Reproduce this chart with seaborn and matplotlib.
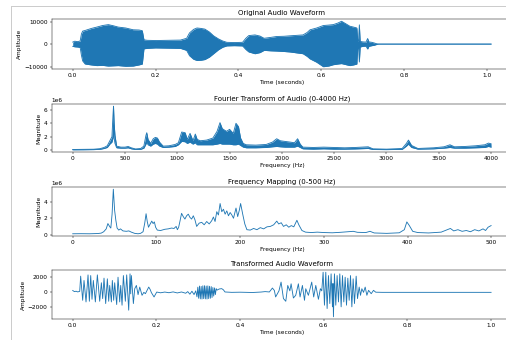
import numpy as np
import matplotlib
matplotlib.use("Agg")
import matplotlib.pyplot as plt
import seaborn as sns
from matplotlib.lines import Line2D

# original waveform envelope (seconds, upper, lower)
orig_t = [0.000, 0.005, 0.012, 0.018, 0.021, 0.024, 0.030, 0.045, 0.058, 0.072,
          0.086, 0.098, 0.110, 0.128, 0.146, 0.160, 0.168, 0.172, 0.180, 0.200,
          0.230, 0.260, 0.275, 0.282, 0.292, 0.300, 0.310, 0.319, 0.330, 0.340,
          0.352, 0.362, 0.372, 0.390, 0.410, 0.418, 0.425, 0.440, 0.452, 0.462,
          0.478, 0.492, 0.510, 0.524, 0.540, 0.556, 0.566, 0.573, 0.589, 0.605,
          0.618, 0.629, 0.640, 0.649, 0.660, 0.669, 0.678, 0.686, 0.688, 0.690,
          0.692, 0.694, 0.700, 0.708, 0.712, 0.715, 0.722, 0.728, 0.733, 0.738,
          1.010]
orig_hi = [900, 1300, 1100, 1400, 4500, 5800, 6100, 7000, 7600, 8300,
           8700, 8200, 7600, 7200, 6400, 6300, 6000, 1900, 1700, 1600,
           1700, 1800, 2600, 5000, 6600, 7200, 7000, 6700, 5400, 3700,
           2300, 1400, 800, 700, 800, 2600, 3800, 4100, 3600, 2600,
           3000, 3400, 3500, 3700, 3900, 4100, 5200, 6400, 7200, 8300,
           8500, 8700, 9400, 10200, 9000, 8000, 7600, 7200, 1600, 1500,
           8600, 1200, 1000, 900, 2500, 1000, 800, 500, 200, 0,
           0]
orig_lo = [-1000, -1200, -1300, -1500, -5000, -7500, -8900, -9300, -9600, -9500,
           -9800, -9700, -9600, -9900, -9800, -9300, -8900, -2100, -1900, -1700,
           -1800, -1900, -2800, -5200, -6800, -7300, -7200, -6900, -5800, -4300,
           -2500, -1400, -800, -700, -800, -2400, -3500, -4300, -3800, -2800,
           -3000, -3100, -3300, -3500, -3900, -4300, -5500, -6600, -8100, -10100,
           -9800, -9200, -8900, -8700, -9200, -9600, -9300, -8900, -1800, -1600,
           -8000, -1300, -1000, -900, -2200, -1000, -700, -500, -200, 0,
           0]

# fourier magnitude envelope, 0-4000 Hz (units of 1e6)
fft_hz = [0, 100, 200, 260, 300, 330, 355, 375, 385, 390, 396, 404, 420, 460, 500,
          530, 560, 600, 650, 680, 700, 708, 720, 745, 770, 790, 810, 830, 865, 920,
          980, 1010, 1042, 1075, 1095, 1122, 1150, 1172, 1190, 1220, 1280, 1340, 1380,
          1408, 1430, 1470, 1500, 1535, 1561, 1585, 1605, 1630, 1660, 1750, 1850, 1910,
          1950, 1985, 2030, 2080, 2120, 2150, 2175, 2200, 2300, 2400, 2500, 2600, 2700,
          2825, 2870, 3000, 3150, 3190, 3210, 3240, 3300, 3450, 3550, 3607, 3650, 3750,
          3850, 3940, 3975, 4000]
fft_lo = [0.05, 0.06, 0.08, 0.12, 0.25, 0.40, 0.90, 1.20, 1.80, 2.50, 1.80, 1.00, 0.35, 0.30, 0.30,
          0.35, 0.20, 0.10, 0.12, 0.30, 0.90, 1.20, 0.80, 0.60, 0.90, 1.00, 0.90, 0.60, 0.40, 0.45,
          0.55, 0.80, 1.30, 1.25, 1.00, 1.20, 0.90, 1.10, 0.80, 0.80, 0.80, 0.80, 0.90,
          1.00, 0.90, 0.90, 0.90, 0.80, 0.80, 0.90, 0.70, 0.45, 0.35, 0.35, 0.40, 0.50,
          0.55, 0.50, 0.45, 0.45, 0.45, 0.60, 0.40, 0.20, 0.15, 0.20, 0.15, 0.15, 0.18,
          0.25, 0.10, 0.08, 0.12, 0.60, 0.90, 0.40, 0.15, 0.20, 0.30, 0.40, 0.30, 0.30,
          0.35, 0.40, 0.55, 0.45]
fft_hi = [0.10, 0.12, 0.14, 0.22, 0.40, 0.65, 1.40, 2.00, 5.20, 6.55, 4.00, 2.20, 0.60, 0.45, 0.45,
          0.55, 0.35, 0.18, 0.25, 0.60, 2.20, 2.60, 1.60, 1.00, 1.70, 1.90, 1.80, 1.20, 0.60, 0.65,
          0.85, 1.10, 2.70, 2.60, 1.60, 2.50, 1.40, 2.40, 1.60, 1.40, 1.50, 1.80, 2.80,
          4.10, 3.20, 2.80, 3.10, 2.50, 4.00, 3.50, 1.80, 1.00, 0.80, 0.75, 0.85, 1.20,
          1.70, 1.40, 1.30, 1.20, 1.10, 1.70, 0.90, 0.45, 0.40, 0.45, 0.40, 0.35, 0.40,
          0.50, 0.20, 0.15, 0.25, 1.00, 1.50, 0.70, 0.25, 0.35, 0.50, 0.80, 0.50, 0.55,
          0.65, 0.80, 1.05, 0.95]

# frequency mapping, 0-500 Hz (units of 1e6)
map_hz = [0, 10, 20, 30, 34, 37, 40, 42, 44, 45.5, 47, 48.5, 50, 51.5, 53, 55, 57, 60, 64, 67,
          70, 74, 78, 81, 84, 86, 87.6, 89, 90.5, 92, 94.4, 96, 97.5, 99, 101, 105, 110, 114,
          118, 121, 123.5, 125, 126.5, 128, 130, 132, 134, 136, 138, 140, 142, 144, 146, 148,
          151, 154, 157, 160, 163, 166, 168, 170, 172, 174, 176, 178, 180, 182, 184, 186, 188,
          190, 192, 195, 197, 199, 200.5, 203, 205.5, 208, 212, 216, 220, 224, 228, 232, 236,
          240, 243.7, 246, 249, 251.7, 255, 258, 261, 264, 267.7, 270, 273.7, 278, 285, 292,
          300, 310, 320, 335, 340, 350, 355, 360, 375, 390, 396, 399, 402, 406, 412, 425, 440,
          446, 451, 455, 460, 465, 470, 475, 480, 485, 490, 493, 496, 499.6]
map_mag = [0.10, 0.11, 0.10, 0.13, 0.18, 0.35, 0.70, 1.35, 1.00, 0.80, 2.50, 5.55, 3.00, 1.75, 0.80,
           0.55, 0.70, 0.45, 0.40, 0.45, 0.30, 0.15, 0.10, 0.15, 0.35, 1.40, 2.55, 1.60, 0.90, 1.20,
           1.65, 1.35, 1.55, 0.90, 0.55, 0.50, 0.65, 0.70, 0.80, 0.75, 1.00, 0.60, 0.90, 1.60, 2.60,
           2.20, 1.90, 2.30, 2.50, 2.10, 1.90, 2.30, 1.80, 1.00, 1.40, 1.50, 1.20, 1.60, 1.30, 1.70,
           2.15, 1.60, 2.80, 2.40, 3.80, 2.80, 3.10, 2.50, 2.90, 2.30, 2.70, 2.40, 2.00, 3.25, 2.20,
           3.00, 3.80, 2.50, 1.30, 0.60, 0.55, 0.75, 0.60, 0.85, 0.70, 0.95, 1.00, 1.20, 1.65, 1.30,
           1.45, 1.00, 1.20, 0.90, 1.10, 0.95, 1.75, 1.20, 0.50, 0.30, 0.25, 0.30, 0.25, 0.22, 0.28,
           0.40, 0.28, 0.25, 0.40, 0.20, 0.15, 0.22, 0.60, 1.55, 1.10, 0.40, 0.25, 0.20, 0.30, 0.55,
           0.75, 0.45, 0.60, 0.40, 0.50, 0.35, 0.60, 0.45, 0.70, 0.50, 0.90, 1.10]

# transformed waveform (seconds, amplitude)
wave_t = [0.000, 0.004, 0.008, 0.012, 0.0167, 0.0190, 0.0238, 0.0270, 0.0318, 0.0366,
          0.0398, 0.0430, 0.0461, 0.0493, 0.0541, 0.0589, 0.0645, 0.0685, 0.0716, 0.0748,
          0.0788, 0.0828, 0.0860, 0.0884, 0.0924, 0.0947, 0.0979, 0.1003, 0.1051, 0.1083,
          0.1123, 0.1147, 0.1179, 0.1211, 0.1258, 0.1290, 0.1338, 0.1370, 0.1386, 0.1402,
          0.1450, 0.1482, 0.1522, 0.1562, 0.1602, 0.1657, 0.1700, 0.1737, 0.1780, 0.1817,
          0.1850, 0.1881, 0.1944, 0.2008, 0.2100, 0.2200, 0.2300, 0.2400, 0.2500, 0.2600,
          0.2700, 0.2750, 0.2800, 0.2850, 0.2900, 0.2940, 0.2970, 0.2990, 0.3010, 0.3030,
          0.3050, 0.3070, 0.3090, 0.3110, 0.3130, 0.3150, 0.3170, 0.3190, 0.3210, 0.3230,
          0.3250, 0.3270, 0.3290, 0.3310, 0.3330, 0.3350, 0.3370, 0.3390, 0.3410, 0.3430,
          0.3450, 0.3500, 0.3560, 0.3600, 0.3640, 0.3800, 0.4000, 0.4300, 0.4500, 0.4600,
          0.4700, 0.4773, 0.4820, 0.4850, 0.4930, 0.4980, 0.5037, 0.5093, 0.5140, 0.5190,
          0.5220, 0.5275, 0.5330, 0.5394, 0.5434, 0.5490, 0.5540, 0.5570, 0.5633, 0.5713,
          0.5760, 0.5810, 0.5873, 0.5920, 0.5953, 0.5985, 0.6017, 0.6049, 0.6081, 0.6113,
          0.6145, 0.6176, 0.6208, 0.6220, 0.6232, 0.6256, 0.6288, 0.6320, 0.6352, 0.6384,
          0.6416, 0.6448, 0.6480, 0.6512, 0.6544, 0.6576, 0.6608, 0.6640, 0.6672, 0.6703,
          0.6735, 0.6775, 0.6807, 0.6847, 0.6879, 0.6911, 0.6951, 0.6991, 0.7031, 0.7071,
          0.7135, 0.7190, 0.7243, 0.7400, 0.8000, 1.0000]
wave_amp = [250, 100, 150, 60, 130, 2180, -1070, 1600, -1290, 2350,
            -1200, 2260, -930, 1600, -1290, 2350, -1200, 1290, -840, 1910,
            -1510, 1820, -1200, 930, -1290, 1600, -1070, 1290, -1640, 2040,
            -1290, 930, -1730, 2260, -1200, 2350, -2400, 2490, -200, 2260,
            -1510, 490, 930, -310, 710, -400, 0, -180, 300, 710,
            400, -40, -620, 40, -60, 40, -50, 60, -80, 50,
            -120, 100, -250, 150, -300, 200, -600, 700, -800, 850,
            -880, 800, -900, 880, -850, 900, -880, 850, -900, 870,
            -850, 820, -800, 780, -700, 650, -500, 600, -300, 500,
            300, 450, 500, 350, 50, 0, 20, -20, 40, 100,
            50, 580, 250, -620, 200, 1380, -840, -1200, 930, 200,
            1150, -760, -400, 1150, -620, 930, -1070, 490, -400, 1380,
            -620, 930, -930, 490, 200, 2710, -1730, 2710, -2180, 2260,
            -1510, 2490, -1950, 1200, -3290, 2490, -1730, 2260, -1290, 2490,
            -1950, 2260, -1290, 2040, -1730, 1910, -1070, 2260, -1950, 1820,
            -1510, 2180, -840, 710, -400, 490, 0, 710, -400, 270,
            -180, 270, 20, 0, 0, 0]

blue = "#1f77b4"
dpi = 42
fig = plt.figure(figsize=(506 / dpi, 340 / dpi), dpi=dpi)

# thin frame left/top like the notebook cell
fig.add_artist(Line2D([11 / 506, 11 / 506], [0, 1 - 6 / 340], transform=fig.transFigure,
                      color="#cccccc", lw=1.7))
fig.add_artist(Line2D([11 / 506, 1], [1 - 6 / 340, 1 - 6 / 340], transform=fig.transFigure,
                      color="#cccccc", lw=1.7))

left, width = 51.8 / 506, 460.2 / 506
ax1 = fig.add_axes([left, 1 - 69 / 340, width, 50 / 340])
ax2 = fig.add_axes([left, 1 - 152 / 340, width, 48 / 340])
ax3 = fig.add_axes([left, 1 - 236 / 340, width, 49 / 340])
ax4 = fig.add_axes([left, 1 - 319 / 340, width, 49 / 340])

# original audio
ax1.fill_between(orig_t, orig_lo, orig_hi, color=blue, lw=0)
sns.lineplot(x=orig_t, y=orig_hi, ax=ax1, color=blue)
sns.lineplot(x=orig_t, y=orig_lo, ax=ax1, color=blue)
ax1.set_title("Original Audio Waveform")
ax1.set_xlabel("Time (seconds)")
ax1.set_ylabel("Amplitude")
ax1.set_yticks([-10000, 0, 10000])
ax1.set_xticks(np.arange(0, 1.01, 0.2))

# fourier transform
lo = np.array(fft_lo) * 1e6
hi = np.array(fft_hi) * 1e6
ax2.fill_between(fft_hz, lo, hi, color=blue, lw=0)
sns.lineplot(x=fft_hz, y=hi, ax=ax2, color=blue)
sns.lineplot(x=fft_hz, y=lo, ax=ax2, color=blue)
ax2.set_title("Fourier Transform of Audio (0-4000 Hz)")
ax2.set_xlabel("Frequency (Hz)")
ax2.set_ylabel("Magnitude")
ax2.set_yticks([0, 2e6, 4e6, 6e6])
ax2.set_xticks(np.arange(0, 4001, 500))

# frequency mapping
sns.lineplot(x=map_hz, y=np.array(map_mag) * 1e6, ax=ax3, color=blue)
ax3.set_title("Frequency Mapping (0-500 Hz)")
ax3.set_xlabel("Frequency (Hz)")
ax3.set_ylabel("Magnitude")
ax3.set_yticks([0, 2e6, 4e6])
ax3.set_xticks(np.arange(0, 501, 100))

# transformed audio
sns.lineplot(x=wave_t, y=wave_amp, ax=ax4, color=blue)
ax4.set_title("Transformed Audio Waveform")
ax4.set_xlabel("Time (seconds)")
ax4.set_ylabel("Amplitude")
ax4.set_yticks([-2000, 0, 2000])
ax4.set_xticks(np.arange(0, 1.01, 0.2))

fig.savefig("out.png", dpi=dpi)
